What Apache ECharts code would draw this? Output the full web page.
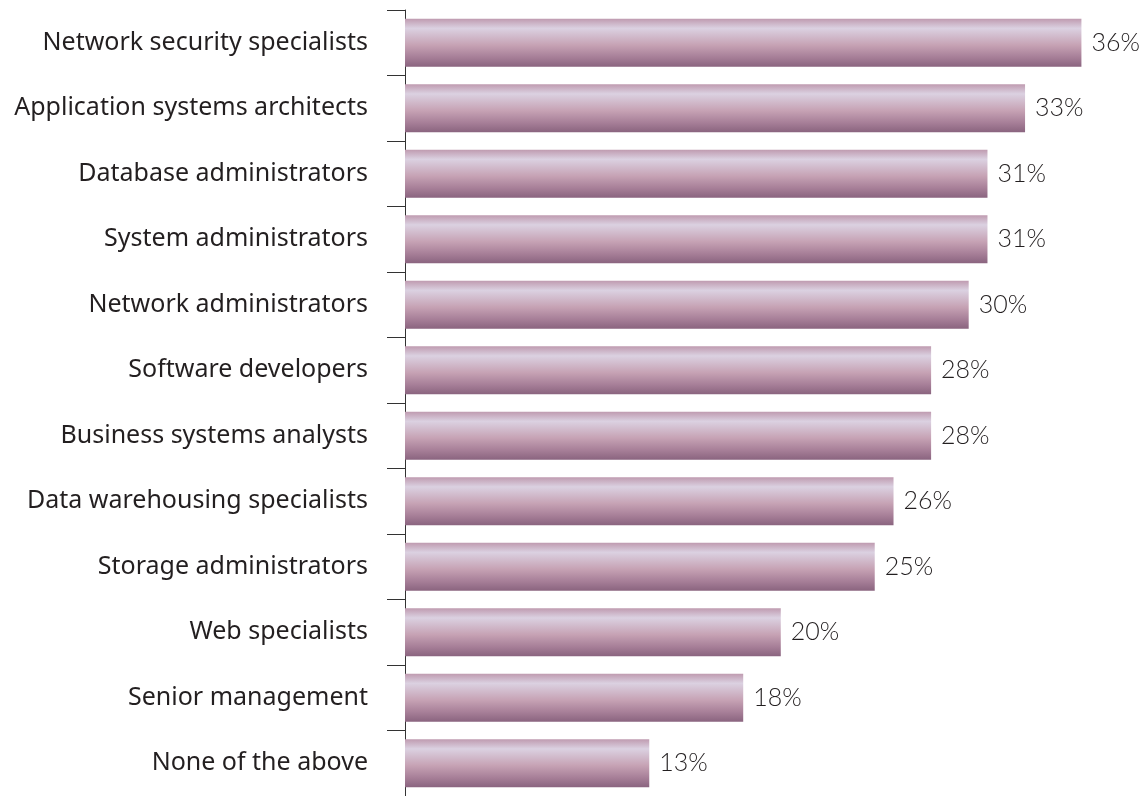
<!DOCTYPE html>
<html><head><meta charset="utf-8">
<script src="https://cdn.jsdelivr.net/npm/echarts@6/dist/echarts.min.js"></script>
<style>html,body{margin:0;padding:0;background:#fff}#c{width:1145px;height:796px}</style>
</head><body><div id="c"></div>
<script>
const categories = ["Network security specialists","Application systems architects","Database administrators","System administrators","Network administrators","Software developers","Business systems analysts","Data warehousing specialists","Storage administrators","Web specialists","Senior management","None of the above"];
const values = [36,33,31,31,30,28,28,26,25,20,18,13];

const chart = echarts.init(document.getElementById('c'));
const grad = new echarts.graphic.LinearGradient(0,0,0,1,[
  {offset:0,color:'#bf9bb0'},
  {offset:0.2,color:'#dbd1e1'},
  {offset:0.55,color:'#c6a2b4'},
  {offset:0.8,color:'#a77f98'},
  {offset:1,color:'#8a647f'}
]);
chart.setOption({
  animation:false,
  grid:{left:405,right:26,top:10,bottom:0,containLabel:false},
  xAxis:{type:'value',min:0,max:38,show:false},
  yAxis:{type:'category',data:categories,inverse:true,
    axisLine:{show:true,lineStyle:{color:'#333',width:1}},
    axisTick:{show:true,length:18,lineStyle:{color:'#333'}},
    axisLabel:{margin:37,color:'#231f20',fontSize:25,fontFamily:'Noto Sans'}
  },
  series:[{type:'bar',data:values,barWidth:48,
    itemStyle:{color:grad},
    label:{show:true,position:'right',distance:10,formatter:'{c}%',color:'#231f20',fontSize:25,fontFamily:'Lato',fontWeight:300}
  }]
});
</script></body></html>
